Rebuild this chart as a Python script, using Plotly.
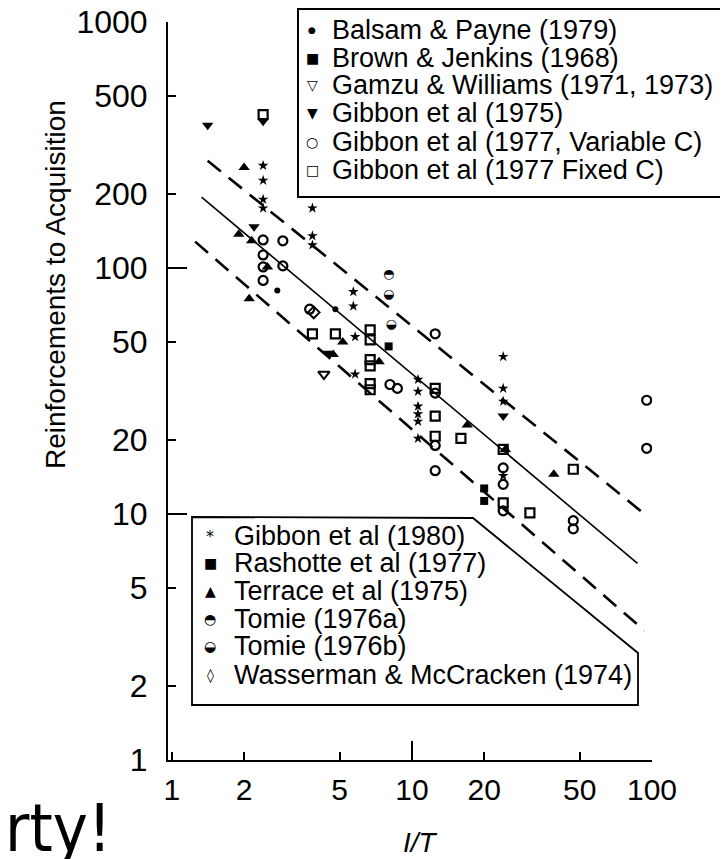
import plotly.graph_objects as go

# ---------------- data ----------------
balsam_x = [2.75, 4.8]
balsam_y = [81, 68]

brown_x = [8.0]
brown_y = [48]

gamzu_x = [4.3]
gamzu_y = [37]

gib75_x = [1.41, 2.2, 4.5, 24, 2.4]
gib75_y = [380, 147, 45, 25, 395]

gib77v_x = [2.4, 2.9, 2.4, 2.4, 2.9, 2.4, 3.75, 8.1, 8.7, 12.5, 12.5, 12.5, 12.5,
            24, 24, 24, 47, 47, 95, 95]
gib77v_y = [130, 129, 113, 101, 102, 89, 68, 33.6, 32.4, 54, 31, 19, 15,
            15.4, 13.2, 10.3, 9.4, 8.7, 29, 18.5]

gib77f_x = [2.4, 3.85, 4.8, 6.7, 6.7, 6.7, 6.7, 6.7, 6.7, 12.5, 12.5, 12.5, 16,
            24, 24, 31, 47]
gib77f_y = [420, 54, 54, 56, 51, 42.4, 40, 33.9, 32, 32.4, 25, 20.7, 20.3,
            18.3, 11.1, 10.1, 15.2]

gib80_x = [2.4, 2.4, 2.4, 2.4, 3.85, 3.85, 3.85, 5.7, 5.7, 5.8, 5.8,
           10.6, 10.6, 10.6, 10.6, 10.6, 10.6, 24, 24, 24, 24]
gib80_y = [261, 227, 190, 175, 175, 135, 124, 80, 70, 52.5, 37,
           35.2, 31.5, 27.4, 25.5, 23.8, 20.3, 43.6, 32.4, 28.7, 14.3]

rashotte_x = [20, 20]
rashotte_y = [12.7, 11.3]

terrace_x = [2.0, 1.9, 2.15, 2.5, 2.1, 5.15, 4.7, 7.3, 17, 24.5, 39]
terrace_y = [256, 137, 129, 101, 75, 50, 44.5, 41.6, 23, 18.3, 14.5]

tomie_a_x = [8.0]
tomie_a_y = [94]

tomie_b_x = [8.0, 8.2]
tomie_b_y = [78, 59]

wasser_x = [3.9]
wasser_y = [66]

# regression and bound lines
solid_x = [1.33, 87]
solid_y = [194, 6.3]
upper_x = [1.41, 93]
upper_y = [273, 10]
lower_x = [1.25, 93]
lower_y = [128, 3.36]

x_ticks = [1, 2, 5, 10, 20, 50, 100]
x_long_ticks = [10, 100]
y_ticks = [1, 2, 5, 10, 20, 50, 100, 200, 500, 1000]
y_long_ticks = [10, 100, 1000]

legend1_labels = ["Balsam & Payne (1979)", "Brown & Jenkins (1968)",
                  "Gamzu & Williams (1971, 1973)", "Gibbon et al (1975)",
                  "Gibbon et al (1977, Variable C)", "Gibbon et al (1977 Fixed C)"]
legend1_glyphs = ["\u25cf", "\u25a0", "\u25bd", "\u25bc", "\u25cb", "\u25a1"]
legend2_labels = ["Gibbon et al (1980)", "Rashotte et al (1977)",
                  "Terrace et al (1975)", "Tomie (1976a)", "Tomie (1976b)",
                  "Wasserman & McCracken (1974)"]
legend2_glyphs = ["*", "\u25a0", "\u25b2", "\u25d3", "\u25d2", "\u25ca"]

# ---------------- layout helpers ----------------
# The page body has an 8px default margin, so the figure is sized to fit the
# 728x859 window; positions below are given in window pixels.
OFF = 8
W, H = 728 - OFF, 859 - OFF
PLOT_L, PLOT_R, PLOT_T, PLOT_B = 168, 652, 22, 760   # window pixels
L, T = PLOT_L - OFF, PLOT_T - OFF
R = W - (PLOT_R - OFF)
B = H - (PLOT_B - OFF)
PW, PH = PLOT_R - PLOT_L, PLOT_B - PLOT_T


def px(x):
    return (x - PLOT_L) / PW


def py(y):
    return (PLOT_B - y) / PH


FONT = "Liberation Sans, Arial, Helvetica, sans-serif"
SYM = "DejaVu Sans, sans-serif"

fig = go.Figure()

# lines
fig.add_trace(go.Scatter(x=solid_x, y=solid_y, mode="lines",
                         line=dict(color="black", width=1.6), showlegend=False))
for lx, ly in [(upper_x, upper_y), (lower_x, lower_y)]:
    fig.add_trace(go.Scatter(x=lx, y=ly, mode="lines",
                             line=dict(color="black", width=2.6, dash="17px,10px"),
                             showlegend=False))


def pts(x, y, symbol, size=8, lw=2):
    fig.add_trace(go.Scatter(x=x, y=y, mode="markers", showlegend=False,
                             marker=dict(symbol=symbol, size=size, color="black",
                                         line=dict(color="black", width=lw))))


pts(balsam_x, balsam_y, "circle", 6, 0)
pts(brown_x, brown_y, "square", 8, 0)
pts(gamzu_x, gamzu_y, "triangle-down-open", 10, 2)
pts(gib75_x, gib75_y, "triangle-down", 10, 0)
pts(gib77v_x, gib77v_y, "circle-open", 9, 2.2)
pts(gib77f_x, gib77f_y, "square-open", 9, 2.2)
pts(gib80_x, gib80_y, "star", 8, 0)
pts(rashotte_x, rashotte_y, "square", 8, 0)
pts(terrace_x, terrace_y, "triangle-up", 10, 0)
pts(wasser_x, wasser_y, "diamond-open", 9, 2)

fig.add_trace(go.Scatter(x=tomie_a_x, y=tomie_a_y, mode="text", showlegend=False,
                         text=["\u25d3"] * len(tomie_a_x),
                         textfont=dict(family=SYM, size=13, color="black")))
fig.add_trace(go.Scatter(x=tomie_b_x, y=tomie_b_y, mode="text", showlegend=False,
                         text=["\u25d2"] * len(tomie_b_x),
                         textfont=dict(family=SYM, size=13, color="black")))

# invisible trace to show the overlay (long tick) axes
fig.add_trace(go.Scatter(x=[10], y=[10], mode="markers", xaxis="x2", yaxis="y2",
                         marker=dict(opacity=0), hoverinfo="skip", showlegend=False))

xr = [-0.016, 2.0]
yr = [0, 3]
axis_common = dict(type="log", showgrid=False, zeroline=False, color="black",
                   tickcolor="black", tickwidth=2, ticks="inside", automargin=False)

fig.update_layout(
    width=W, height=H,
    margin=dict(l=L, r=R, t=T, b=B, autoexpand=False),
    paper_bgcolor="white", plot_bgcolor="white",
    showlegend=False,
    xaxis=dict(**axis_common, range=xr, tickmode="array", tickvals=x_ticks,
               ticktext=[str(v) for v in x_ticks], ticklen=8,
               showline=True, linecolor="black", linewidth=2,
               ticklabelstandoff=2, ticklabeloverflow="allow",
               tickfont=dict(family=FONT, size=30, color="black")),
    yaxis=dict(**axis_common, range=yr, tickmode="array", tickvals=y_ticks,
               ticktext=[str(v) for v in y_ticks], ticklen=8,
               showline=True, linecolor="black", linewidth=2,
               ticklabelstandoff=12, ticklabeloverflow="allow",
               tickfont=dict(family=FONT, size=32, color="black")),
    xaxis2=dict(**axis_common, range=xr, overlaying="x", anchor="y2", side="bottom",
                tickmode="array", tickvals=x_long_ticks, ticklen=19,
                showticklabels=False, showline=False),
    yaxis2=dict(**axis_common, range=yr, overlaying="y", anchor="x2", side="left",
                tickmode="array", tickvals=y_long_ticks, ticklen=19,
                showticklabels=False, showline=False),
)

shapes = []
# legend 1 box
shapes.append(dict(type="rect", xref="paper", yref="paper",
                   x0=px(298), x1=px(725), y0=py(197), y1=py(9),
                   line=dict(color="black", width=2), fillcolor="white", layer="above"))
# legend 2 box with cut corner
path = "M {a},{b} L {c},{d} L {e},{f} L {g},{h} L {i},{j} Z".format(
    a=px(192), b=py(705), c=px(192), d=py(517), e=px(473), f=py(518),
    g=px(638), h=py(653), i=px(638), j=py(705))
shapes.append(dict(type="path", xref="paper", yref="paper", path=path,
                   line=dict(color="black", width=1.8), fillcolor="white", layer="above"))
fig.update_layout(shapes=shapes)

ann = []
rows1 = [30, 58, 85, 113, 142, 170]
for yy, g, t in zip(rows1, legend1_glyphs, legend1_labels):
    ann.append(dict(x=px(312), y=py(yy), xref="paper", yref="paper", text=g,
                    showarrow=False, xanchor="center", yanchor="middle",
                    font=dict(family=SYM, size=9 if g == "\u25cf" else 14,
                              color="black")))
    ann.append(dict(x=px(330), y=py(yy), xref="paper", yref="paper", text=t,
                    showarrow=False, xanchor="left", yanchor="middle",
                    font=dict(family=FONT, size=27, color="black")))
rows2 = [536, 563, 591, 619, 646, 675]
for yy, g, t in zip(rows2, legend2_glyphs, legend2_labels):
    ann.append(dict(x=px(210), y=py(yy), xref="paper", yref="paper", text=g,
                    showarrow=False, xanchor="center", yanchor="middle",
                    font=dict(family=SYM, size=16 if g == "*" else 14, color="black")))
    ann.append(dict(x=px(232), y=py(yy), xref="paper", yref="paper", text=t,
                    showarrow=False, xanchor="left", yanchor="middle",
                    font=dict(family=FONT, size=27, color="black")))

# axis titles
ann.append(dict(x=px(55), y=py(285), xref="paper", yref="paper",
                text="Reinforcements to Acquisition", textangle=-90,
                showarrow=False, xanchor="center", yanchor="middle",
                font=dict(family=FONT, size=28, color="black")))
ann.append(dict(x=px(420), y=py(842), xref="paper", yref="paper",
                text="<i>I/T</i>", showarrow=False, xanchor="center", yanchor="middle",
                font=dict(family=FONT, size=28, color="black")))
# cropped caption fragment at bottom left
ann.append(dict(x=px(114), y=py(869), xref="paper", yref="paper",
                text="rty!", showarrow=False, xanchor="right", yanchor="bottom",
                font=dict(family="DejaVu Sans Condensed, DejaVu Sans, sans-serif",
                          size=66, color="black")))
fig.update_layout(annotations=ann)

fig.write_html("out.html")
